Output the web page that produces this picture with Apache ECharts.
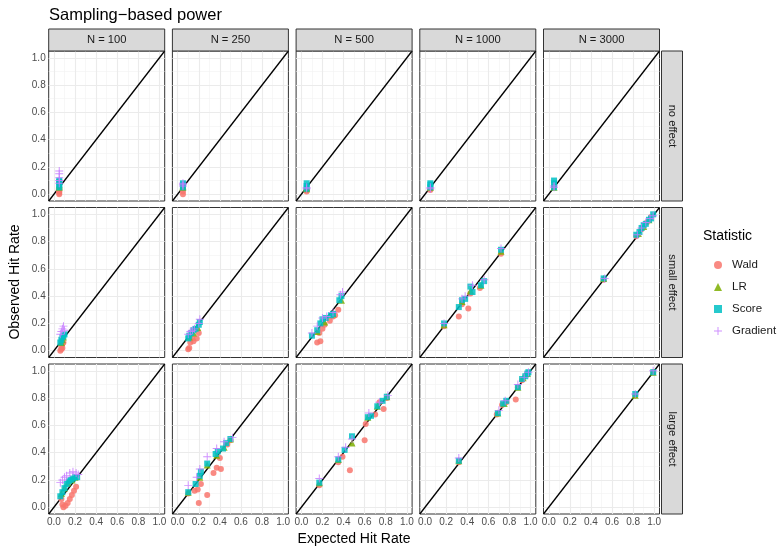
<!DOCTYPE html>
<html><head><meta charset="utf-8">
<script src="https://cdn.jsdelivr.net/npm/echarts@6/dist/echarts.min.js"></script>
<style>html,body{margin:0;padding:0;background:#fff}#c{width:780px;height:548px}</style>
</head><body><div id="c"></div>
<script>
// ---------- categories / ticks ----------
const sampleSizes = ['N = 100', 'N = 250', 'N = 500', 'N = 1000', 'N = 3000'];
const effects = ['no effect', 'small effect', 'large effect'];
const statistics = ['Wald', 'LR', 'Score', 'Gradient'];
const tickValues = [0, 0.2, 0.4, 0.6, 0.8, 1.0];
const minorValues = [0.1, 0.3, 0.5, 0.7, 0.9];
const axisRange = [-0.05, 1.05];

// ---------- data: [row = effect][col = N] -> [[expected, observed], ...] ----------
const wald = [
  [ // no effect
    [[0.05,0.0],[0.05,0.01],[0.05,0.02],[0.05,0.03]],
    [[0.05,0.0],[0.05,0.02],[0.05,0.04]],
    [[0.05,0.02],[0.05,0.03],[0.05,0.04]],
    [[0.05,0.03],[0.05,0.04]],
    [[0.05,0.05]]
  ],
  [ // small effect
    [[0.06,0.0],[0.07,0.01],[0.08,0.02],[0.07,0.03],[0.08,0.05],[0.09,0.06]],
    [[0.1,0.01],[0.11,0.02],[0.12,0.06],[0.15,0.07],[0.18,0.09],[0.2,0.13],[0.14,0.09]],
    [[0.15,0.06],[0.18,0.07],[0.17,0.13],[0.2,0.16],[0.22,0.19],[0.27,0.22],[0.3,0.25],[0.35,0.3],[0.32,0.26]],
    [[0.18,0.18],[0.32,0.25],[0.41,0.31],[0.35,0.34],[0.43,0.42],[0.52,0.46],[0.72,0.71]],
    [[0.52,0.52],[0.83,0.84],[0.88,0.89],[0.93,0.94],[0.97,0.98]]
  ],
  [ // large effect
    [[0.07,0.06],[0.08,0.02],[0.09,0.0],[0.11,0.01],[0.13,0.03],[0.15,0.06],[0.17,0.09],[0.19,0.12],[0.21,0.15]],
    [[0.1,0.1],[0.16,0.12],[0.19,0.13],[0.2,0.03],[0.22,0.17],[0.28,0.09],[0.34,0.25],[0.37,0.29],[0.41,0.28],[0.4,0.36],[0.47,0.46],[0.5,0.49]],
    [[0.17,0.16],[0.35,0.33],[0.39,0.37],[0.46,0.27],[0.6,0.49],[0.61,0.61],[0.7,0.68],[0.74,0.77],[0.78,0.72],[0.81,0.8]],
    [[0.32,0.33],[0.68,0.68],[0.73,0.75],[0.77,0.77],[0.86,0.79],[0.88,0.88],[0.92,0.93],[0.96,0.97]],
    [[0.82,0.82],[0.99,0.99]]
  ]
];
const lr = [
  [
    [[0.05,0.05],[0.05,0.06],[0.05,0.07]],
    [[0.05,0.05],[0.05,0.06]],
    [[0.05,0.04],[0.05,0.05]],
    [[0.05,0.05]],
    [[0.05,0.05]]
  ],
  [
    [[0.07,0.06],[0.08,0.08],[0.09,0.1]],
    [[0.11,0.1],[0.15,0.13],[0.19,0.17]],
    [[0.15,0.14],[0.22,0.21],[0.3,0.27],[0.38,0.37]],
    [[0.18,0.19],[0.35,0.36],[0.43,0.44],[0.53,0.48],[0.72,0.73]],
    [[0.52,0.53],[0.85,0.86],[0.9,0.91],[0.95,0.96]]
  ],
  [
    [[0.07,0.1],[0.1,0.14],[0.13,0.18],[0.17,0.2],[0.2,0.22]],
    [[0.1,0.11],[0.21,0.22],[0.28,0.31],[0.37,0.38],[0.44,0.44],[0.5,0.5]],
    [[0.17,0.18],[0.35,0.35],[0.48,0.47],[0.63,0.66],[0.72,0.74],[0.81,0.81]],
    [[0.32,0.34],[0.69,0.69],[0.75,0.76],[0.88,0.88],[0.93,0.95],[0.97,0.98]],
    [[0.82,0.82],[0.99,0.99]]
  ]
];
const score = [
  [
    [[0.05,0.05],[0.05,0.07],[0.05,0.09],[0.05,0.1]],
    [[0.05,0.05],[0.05,0.07],[0.05,0.08]],
    [[0.05,0.04],[0.05,0.06],[0.05,0.08]],
    [[0.05,0.05],[0.05,0.07],[0.05,0.08]],
    [[0.05,0.05],[0.05,0.08],[0.05,0.1]]
  ],
  [
    [[0.06,0.06],[0.07,0.08],[0.08,0.1],[0.09,0.11],[0.1,0.12]],
    [[0.1,0.09],[0.11,0.11],[0.13,0.13],[0.15,0.15],[0.17,0.16],[0.2,0.19],[0.21,0.21]],
    [[0.1,0.11],[0.15,0.15],[0.18,0.2],[0.2,0.23],[0.23,0.24],[0.28,0.26],[0.3,0.27],[0.36,0.37],[0.38,0.4]],
    [[0.18,0.2],[0.32,0.32],[0.35,0.37],[0.38,0.38],[0.43,0.47],[0.45,0.43],[0.53,0.48],[0.56,0.51],[0.72,0.74]],
    [[0.52,0.53],[0.83,0.85],[0.86,0.87],[0.88,0.9],[0.9,0.92],[0.92,0.93],[0.95,0.96],[0.97,0.97],[0.99,1.0]]
  ],
  [
    [[0.06,0.08],[0.08,0.11],[0.1,0.14],[0.12,0.17],[0.14,0.19],[0.16,0.2],[0.18,0.21],[0.2,0.22],[0.22,0.22]],
    [[0.1,0.11],[0.17,0.17],[0.21,0.23],[0.22,0.26],[0.28,0.32],[0.36,0.39],[0.38,0.41],[0.43,0.43],[0.46,0.47],[0.5,0.5]],
    [[0.17,0.18],[0.35,0.35],[0.41,0.42],[0.48,0.52],[0.63,0.66],[0.66,0.67],[0.72,0.74],[0.77,0.78],[0.81,0.81]],
    [[0.32,0.34],[0.69,0.69],[0.74,0.76],[0.77,0.78],[0.88,0.88],[0.92,0.94],[0.95,0.96],[0.97,0.98],[0.98,0.99]],
    [[0.82,0.83],[0.99,0.99]]
  ]
];
const gradient = [
  [
    [[0.05,0.08],[0.05,0.1],[0.05,0.12],[0.05,0.15],[0.05,0.17]],
    [[0.05,0.06],[0.05,0.07],[0.05,0.08]],
    [[0.05,0.04],[0.05,0.05]],
    [[0.05,0.04],[0.05,0.05]],
    [[0.05,0.05],[0.05,0.06]]
  ],
  [
    [[0.06,0.12],[0.07,0.14],[0.08,0.16],[0.09,0.18],[0.1,0.15]],
    [[0.1,0.12],[0.12,0.14],[0.14,0.15],[0.16,0.16],[0.2,0.2],[0.21,0.23]],
    [[0.1,0.13],[0.15,0.18],[0.2,0.24],[0.24,0.25],[0.3,0.28],[0.37,0.41],[0.39,0.43]],
    [[0.18,0.2],[0.35,0.38],[0.38,0.4],[0.45,0.48],[0.56,0.52],[0.72,0.75]],
    [[0.53,0.53],[0.84,0.85],[0.88,0.9],[0.92,0.94],[0.96,0.97],[0.99,0.99]]
  ],
  [
    [[0.06,0.18],[0.08,0.2],[0.1,0.22],[0.12,0.23],[0.15,0.25],[0.18,0.26],[0.21,0.25],[0.23,0.24]],
    [[0.1,0.16],[0.18,0.22],[0.21,0.28],[0.28,0.37],[0.37,0.43],[0.44,0.48],[0.52,0.51]],
    [[0.17,0.21],[0.35,0.37],[0.42,0.44],[0.48,0.5],[0.64,0.69],[0.74,0.77],[0.82,0.82]],
    [[0.32,0.36],[0.7,0.71],[0.76,0.78],[0.88,0.9],[0.94,0.95],[0.98,0.99]],
    [[0.82,0.83],[0.99,1.0]]
  ]
];

// ---------- styling ----------
const FONT = '"Liberation Sans", Arial, sans-serif';
const colors = {Wald:'#F8766D', LR:'#7CAE00', Score:'#00BFC4', Gradient:'#C77CFF'};
const symbols = {
  Wald:'circle', LR:'triangle', Score:'rect',
  Gradient:'path://M0,4.4L10,4.4L10,5.6L0,5.6Z M4.4,0L5.6,0L5.6,10L4.4,10Z'
};
const symbolSizes = {Wald:6, LR:7, Score:6, Gradient:8};
const dataByStat = {Wald:wald, LR:lr, Score:score, Gradient:gradient};

const L0 = 48.7, CSTEP = 123.7, PW = 116;
const T0 = 51, RSTEP = 156.5, PH = 150;

const grids = [], xAxes = [], yAxes = [], series = [], graphics = [];

const gridLineData = [];
minorValues.forEach(v => { gridLineData.push({xAxis:v, lineStyle:{color:'#F2F2F2', width:0.6, type:'solid'}}); gridLineData.push({yAxis:v, lineStyle:{color:'#F2F2F2', width:0.6, type:'solid'}}); });
tickValues.forEach(v => { gridLineData.push({xAxis:v, lineStyle:{color:'#EBEBEB', width:1.1, type:'solid'}}); gridLineData.push({yAxis:v, lineStyle:{color:'#EBEBEB', width:1.1, type:'solid'}}); });

effects.forEach((eff, r) => {
  sampleSizes.forEach((ns, c) => {
    const i = r * 5 + c;
    const left = L0 + CSTEP * c, top = T0 + RSTEP * r;
    grids.push({left:left, top:top, width:PW, height:PH, show:true, backgroundColor:'#fff', borderColor:'#333333', borderWidth:1, containLabel:false});
    xAxes.push({
      gridIndex:i, type:'value', min:axisRange[0], max:axisRange[1],
      axisLine:{show:false},
      axisTick:{show:r === 2, customValues:tickValues, length:3, lineStyle:{color:'#333333', width:1}},
      axisLabel:{show:r === 2, customValues:tickValues, formatter:v => v.toFixed(1), fontSize:10, color:'#4D4D4D', margin:3, fontFamily:FONT},
      splitLine:{show:false}
    });
    yAxes.push({
      gridIndex:i, type:'value', min:axisRange[0], max:axisRange[1],
      axisLine:{show:false},
      axisTick:{show:c === 0, customValues:tickValues, length:3, lineStyle:{color:'#333333', width:1}},
      axisLabel:{show:c === 0, customValues:tickValues, formatter:v => v.toFixed(1), fontSize:10, color:'#4D4D4D', margin:3, fontFamily:FONT},
      splitLine:{show:false}
    });
    // grid lines
    series.push({
      type:'line', xAxisIndex:i, yAxisIndex:i, data:[], silent:true, z:1,
      markLine:{silent:true, z:1, symbol:['none','none'], label:{show:false}, animation:false,
        lineStyle:{type:'solid'}, emphasis:{disabled:true}, data:gridLineData}
    });
    // diagonal
    series.push({
      type:'line', xAxisIndex:i, yAxisIndex:i, silent:true, z:3,
      data:[[axisRange[0], axisRange[0]], [axisRange[1], axisRange[1]]],
      symbol:'none', lineStyle:{color:'#000', width:1.3, type:'solid'}
    });
    statistics.forEach(st => {
      series.push({
        type:'scatter', name:st, xAxisIndex:i, yAxisIndex:i, z:4,
        data:dataByStat[st][r][c], symbol:symbols[st], symbolSize:symbolSizes[st],
        itemStyle:{color:colors[st], opacity:0.85, borderWidth:0}
      });
    });
    // top strips
    if (r === 0) {
      graphics.push({type:'rect', shape:{x:left, y:29, width:PW, height:22}, style:{fill:'#D9D9D9', stroke:'#333333', lineWidth:1}, z:10});
      graphics.push({type:'text', x:left + PW / 2, y:40, style:{text:ns, fill:'#1A1A1A', font:'11.2px ' + FONT, textAlign:'center', textVerticalAlign:'middle'}, z:11});
    }
    if (c === 4) {
      graphics.push({type:'rect', shape:{x:left + PW + 2, y:top, width:21, height:PH}, style:{fill:'#D9D9D9', stroke:'#333333', lineWidth:1}, z:10});
      graphics.push({type:'text', x:left + PW + 12.5, y:top + PH / 2, rotation:-Math.PI / 2, style:{text:eff, fill:'#1A1A1A', font:'11.2px ' + FONT, textAlign:'center', textVerticalAlign:'middle'}, z:11});
    }
  });
});

graphics.push({type:'text', x:49, y:15, style:{text:'Sampling\u2212based power', fill:'#000', font:'16.5px ' + FONT, textAlign:'left', textVerticalAlign:'middle'}});
graphics.push({type:'text', x:15, y:282, rotation:Math.PI / 2, style:{text:'Observed Hit Rate', fill:'#000', font:'14px ' + FONT, textAlign:'center', textVerticalAlign:'middle'}});
graphics.push({type:'text', x:354, y:539, style:{text:'Expected Hit Rate', fill:'#000', font:'14px ' + FONT, textAlign:'center', textVerticalAlign:'middle'}});
graphics.push({type:'text', x:703, y:236, style:{text:'Statistic', fill:'#000', font:'14px ' + FONT, textAlign:'left', textVerticalAlign:'middle'}});

const chart = echarts.init(document.getElementById('c'), null, {renderer:'canvas'});
chart.setOption({
  animation:false,
  backgroundColor:'#fff',
  grid:grids, xAxis:xAxes, yAxis:yAxes, series:series,
  legend:{
    data:statistics, orient:'vertical', left:709, top:253,
    itemWidth:8, itemHeight:8, itemGap:8, selectedMode:false,
    textStyle:{fontSize:11.5, color:'#1A1A1A', fontFamily:FONT, lineHeight:14, padding:[0,0,0,5]}
  },
  graphic:graphics
});
</script>
</body></html>
